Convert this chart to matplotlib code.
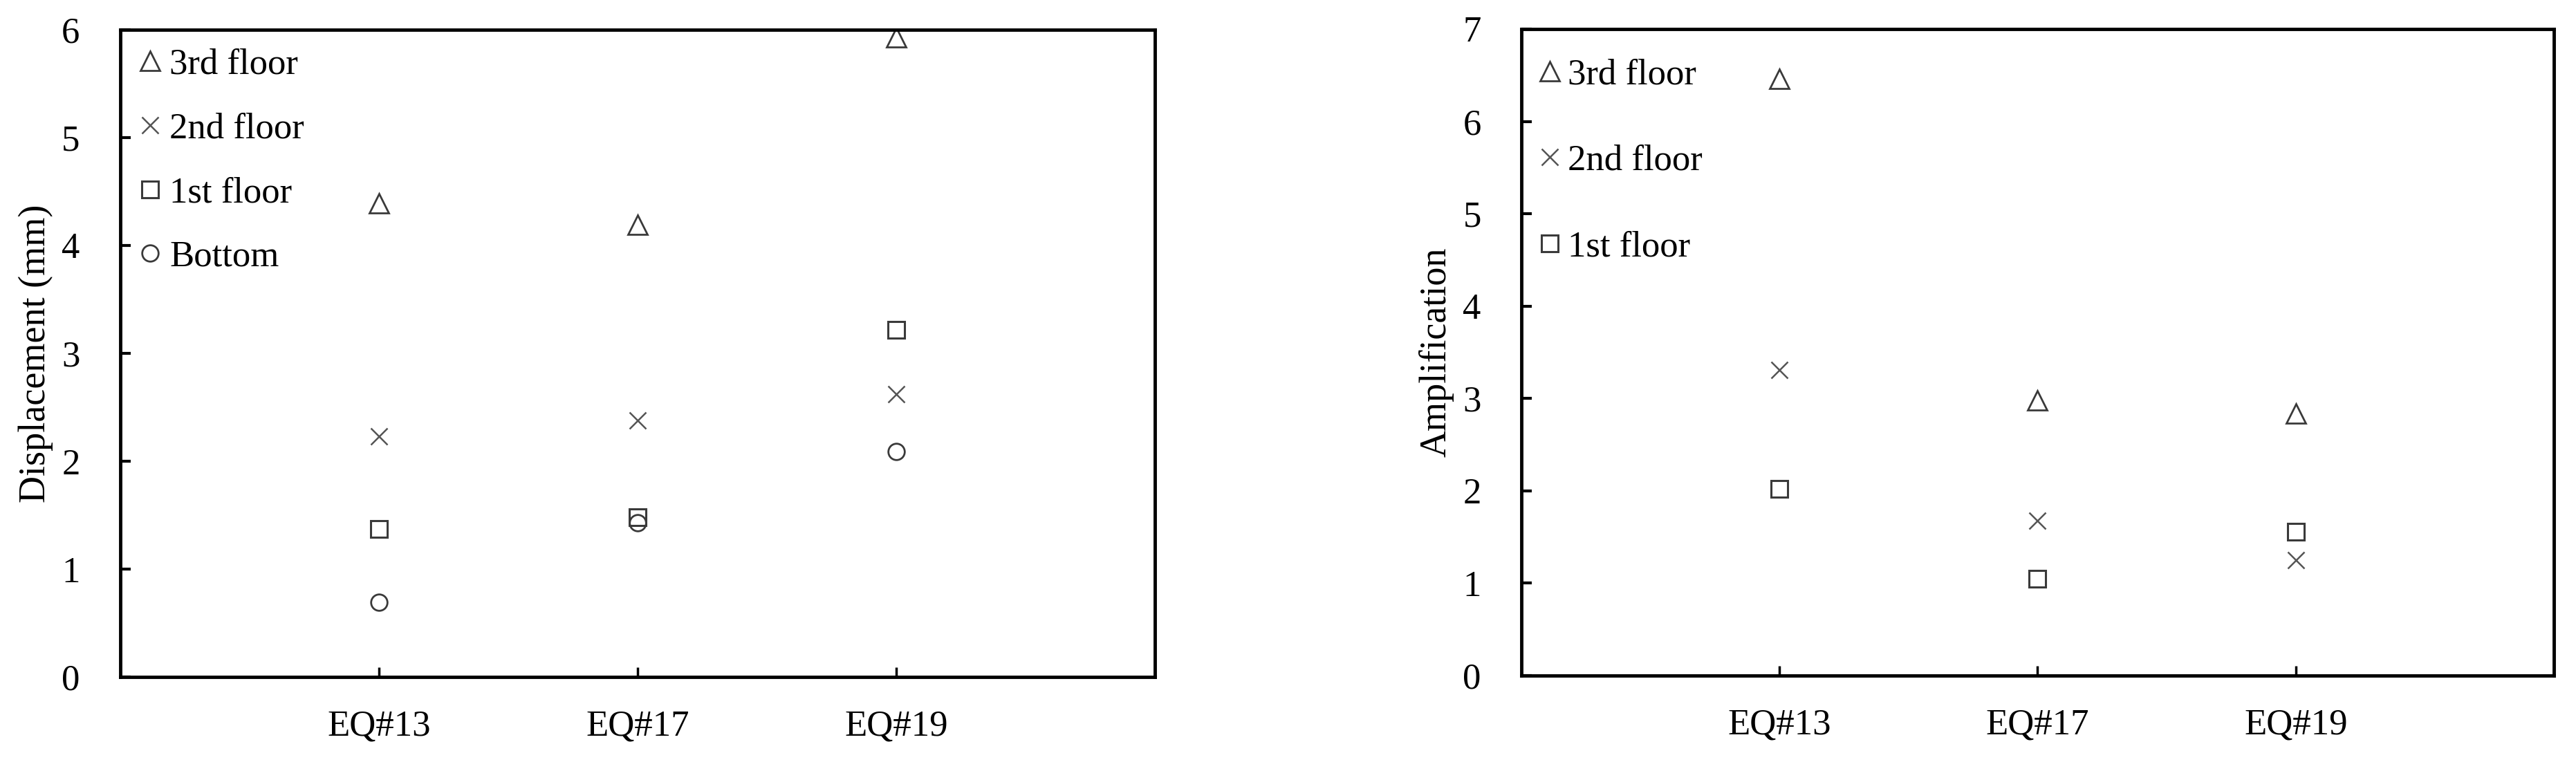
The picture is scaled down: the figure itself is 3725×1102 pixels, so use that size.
import matplotlib.pyplot as plt

# shaking events
events = ['EQ#13', 'EQ#17', 'EQ#19']

# peak displacement (mm)
disp_3rd = [4.39, 4.19, 5.93]
disp_2nd = [2.23, 2.38, 2.62]
disp_1st = [1.37, 1.48, 3.22]
disp_bottom = [0.69, 1.43, 2.09]

# amplification factor
amp_3rd = [6.46, 2.98, 2.84]
amp_2nd = [3.31, 1.68, 1.25]
amp_1st = [2.02, 1.05, 1.56]

plt.rcParams['font.family'] = ['Liberation Serif', 'DejaVu Serif']

edge = '#3a3a3a'
marker_style = {
    '3rd floor': dict(marker='^', markersize=20, markerfacecolor='none',
                      markeredgecolor=edge, markeredgewidth=2.0),
    '2nd floor': dict(marker='x', markersize=17, color='#555555',
                      markeredgewidth=1.8),
    '1st floor': dict(marker='s', markersize=17, markerfacecolor='none',
                      markeredgecolor=edge, markeredgewidth=2.2),
    'Bottom': dict(marker='o', markersize=17, markerfacecolor='none',
                   markeredgecolor=edge, markeredgewidth=2.0),
}

fig = plt.figure(figsize=(37.25, 11.02), dpi=100)
ax1 = fig.add_axes([0.0467, 0.1116, 0.4016, 0.8494])
ax2 = fig.add_axes([0.5906, 0.1134, 0.4008, 0.8485])

x = range(1, len(events) + 1)


def style_axes(ax, ymax, ylabel):
    ax.set_xlim(0, 4)
    ax.set_ylim(0, ymax)
    ax.set_xticks(list(x))
    ax.set_xticklabels(events)
    ax.set_yticks(range(0, ymax + 1))
    for s in ax.spines.values():
        s.set_linewidth(3.5)
    ax.tick_params(axis='y', direction='in', length=11, width=3.0,
                   labelsize=38, pad=42)
    ax.tick_params(axis='x', direction='in', length=10, width=2.5,
                   labelsize=38, pad=34)
    ax.set_ylabel(ylabel, fontsize=39, labelpad=9)


# Displacement plot
ax1.plot(x, disp_3rd, linestyle='none', label='3rd floor', **marker_style['3rd floor'])
ax1.plot(x, disp_2nd, linestyle='none', label='2nd floor', **marker_style['2nd floor'])
ax1.plot(x, disp_1st, linestyle='none', label='1st floor', **marker_style['1st floor'])
ax1.plot(x, disp_bottom, linestyle='none', label='Bottom', **marker_style['Bottom'])
style_axes(ax1, 6, 'Displacement (mm)')
ax1.legend(loc='upper left', frameon=False, fontsize=38, handlelength=0.65,
           handletextpad=0.2, labelspacing=0.85, borderaxespad=0.2,
           borderpad=0.3)

# Amplification plot
ax2.plot(x, amp_3rd, linestyle='none', label='3rd floor', **marker_style['3rd floor'])
ax2.plot(x, amp_2nd, linestyle='none', label='2nd floor', **marker_style['2nd floor'])
ax2.plot(x, amp_1st, linestyle='none', label='1st floor', **marker_style['1st floor'])
style_axes(ax2, 7, 'Amplification')
ax2.legend(loc='upper left', bbox_to_anchor=(-0.012, 1.0), frameon=False,
           fontsize=38, handlelength=0.65, handletextpad=0.15,
           labelspacing=1.45, borderaxespad=0.5, borderpad=0.3)

fig.savefig('out.png', dpi=100)
